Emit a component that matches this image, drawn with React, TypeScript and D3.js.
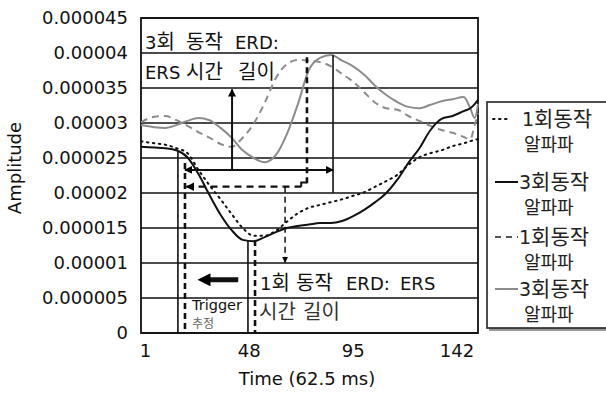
import * as d3 from "d3";
import React from "react";

// sample positions (Time index, 62.5 ms)
const times = [-1, 5, 10, 15, 20, 25, 30, 35, 40, 45, 50, 55, 60, 65, 70, 75, 80, 85, 90, 95, 100, 105, 110, 115, 120, 125, 130, 135, 140, 145, 148, 150, 151.5];

// 1회동작 알파파 (dotted black)
const erd1 = [27.4e-6, 27.1e-6, 26.9e-6, 26.4e-6, 25.7e-6, 23.3e-6, 21.1e-6, 19.1e-6, 17.0e-6, 15.0e-6, 13.9e-6, 13.9e-6, 14.6e-6, 15.9e-6, 17.1e-6, 17.9e-6, 18.3e-6, 18.7e-6, 19.1e-6, 19.6e-6, 20.1e-6, 20.9e-6, 21.7e-6, 22.6e-6, 24.0e-6, 25.1e-6, 25.7e-6, 26.1e-6, 26.7e-6, 27.1e-6, 27.4e-6, 27.6e-6, 27.7e-6];
// 3회동작 알파파 (solid black)
const erd3 = [26.6e-6, 26.5e-6, 26.4e-6, 26.1e-6, 25.1e-6, 22.7e-6, 19.7e-6, 16.9e-6, 14.7e-6, 13.3e-6, 13.1e-6, 13.7e-6, 14.4e-6, 15.0e-6, 15.3e-6, 15.5e-6, 15.7e-6, 15.7e-6, 16.0e-6, 16.7e-6, 17.6e-6, 18.7e-6, 20.0e-6, 21.9e-6, 24.3e-6, 26.4e-6, 29.0e-6, 30.6e-6, 31.0e-6, 31.7e-6, 32.1e-6, 32.7e-6, 33.3e-6];
// 1회동작 알파파 (dashed gray)
const ers1 = [30.1e-6, 30.9e-6, 31.0e-6, 30.4e-6, 29.6e-6, 28.7e-6, 27.9e-6, 27.0e-6, 26.6e-6, 27.9e-6, 29.9e-6, 32.9e-6, 36.4e-6, 38.4e-6, 39.0e-6, 38.9e-6, 38.7e-6, 38.1e-6, 37.0e-6, 35.9e-6, 34.4e-6, 32.9e-6, 32.1e-6, 31.9e-6, 31.0e-6, 30.3e-6, 29.6e-6, 29.0e-6, 28.6e-6, 28.0e-6, 27.7e-6, 29.7e-6, 31.4e-6];
// 3회동작 알파파 (solid gray)
const ers3 = [29.7e-6, 29.4e-6, 29.3e-6, 29.7e-6, 30.3e-6, 30.7e-6, 30.4e-6, 29.3e-6, 27.9e-6, 26.1e-6, 25.0e-6, 24.4e-6, 25.4e-6, 28.4e-6, 32.7e-6, 37.6e-6, 39.3e-6, 39.7e-6, 38.9e-6, 38.1e-6, 36.9e-6, 35.3e-6, 34.0e-6, 33.0e-6, 32.3e-6, 32.1e-6, 32.6e-6, 33.1e-6, 33.4e-6, 33.7e-6, 32.1e-6, 30.7e-6, 32.7e-6];

const xTicks = [1, 48, 95, 142];
const yTicks = [0, 5e-6, 10e-6, 15e-6, 20e-6, 25e-6, 30e-6, 35e-6, 40e-6, 45e-6];
const yTickLabels = ["0", "0.000005", "0.00001", "0.000015", "0.00002", "0.000025", "0.00003", "0.000035", "0.00004", "0.000045"];

const legendNames = ["1회동작", "3회동작", "1회동작", "3회동작"];
const legendSub = "알파파";

const FONT = "'DejaVu Sans', 'Noto Sans CJK KR', sans-serif";
const KFONT = "'Noto Sans CJK KR', sans-serif";
const GRAY = "#8c8c8c";

// split into hangul / other runs so Korean can be set a bit larger
function Mixed({ text, size, ksize }: { text: string; size: number; ksize: number }) {
    const runs = text.match(/[\uac00-\ud7a3]+|[^\uac00-\ud7a3]+/g) || [];
    return (
        <>
            {runs.map((r, i) =>
                /[\uac00-\ud7a3]/.test(r) ? (
                    <tspan key={i} fontFamily={KFONT} fontSize={ksize}>{r}</tspan>
                ) : (
                    <tspan key={i} fontFamily={FONT} fontSize={size}>{r}</tspan>
                )
            )}
        </>
    );
}

// words placed one by one, like the spaced-out labels in the figure
function Words({ words, y, fill = "#111", size = 18, ksize = 21 }: { words: [string, number][]; y: number; fill?: string; size?: number; ksize?: number }) {
    return (
        <>
            {words.map(([w, wx], i) => (
                <text key={i} x={wx} y={y} fill={fill}>
                    <Mixed text={w} size={size} ksize={ksize} />
                </text>
            ))}
        </>
    );
}

export default function App() {
    const width = 606;
    const height = 394;
    const plot = { left: 141, right: 478, top: 18, bottom: 333 };

    const x = d3.scaleLinear().domain([-1, 151.5]).range([plot.left, plot.right]);
    const y = d3.scaleLinear().domain([0, 45e-6]).range([plot.bottom, plot.top]);

    const line = (vals: number[]) =>
        d3
            .line<number>()
            .x((d, i) => x(times[i]))
            .y((d) => y(d))
            .curve(d3.curveMonotoneX)(vals) as string;

    // annotation anchors in data units
    const trig = 15.7;
    const trigDash = 18.9;
    const minT = 47.4;
    const minDash = 50.6;

    const legendY = [119, 182, 237, 289];
    const legendStyle = [
        { stroke: "#111", dash: "1.5,4.5", cap: "round" },
        { stroke: "#111", dash: "", cap: "butt" },
        { stroke: "#555", dash: "6,5", cap: "butt" },
        { stroke: GRAY, dash: "", cap: "butt" },
    ];

    return (
        <svg width={width} height={height} style={{ position: "absolute", left: 0, top: 0, background: "#fff" }}>
            <defs>
                <marker id="ah" viewBox="0 0 10 10" refX="9" refY="5" markerWidth="4" markerHeight="4" orient="auto-start-reverse">
                    <path d="M0,0L10,5L0,10z" fill="#000" />
                </marker>
                <marker id="ahBig" viewBox="0 0 10 10" refX="5" refY="5" markerWidth="3" markerHeight="2.6" orient="auto-start-reverse">
                    <path d="M0,0L10,5L0,10z" fill="#000" />
                </marker>
            </defs>

            {/* grid */}
            {yTicks.map((t) => (
                <line key={t} x1={plot.left} x2={plot.right} y1={y(t)} y2={y(t)} stroke="#111" strokeWidth={1.5} />
            ))}
            <rect x={plot.left} y={plot.top} width={plot.right - plot.left} height={plot.bottom - plot.top} fill="none" stroke="#111" strokeWidth={1.8} />

            {/* axis labels */}
            {yTicks.map((t, i) => (
                <text key={t} x={128} y={y(t)} dy="0.36em" textAnchor="end" fontFamily={FONT} fontSize={18} fill="#111">
                    {yTickLabels[i]}
                </text>
            ))}
            {xTicks.map((t) => (
                <text key={t} x={x(t)} y={357} textAnchor="middle" fontFamily={FONT} fontSize={18} fill="#111">
                    {t}
                </text>
            ))}
            <text x={307} y={385} textAnchor="middle" fontFamily={FONT} fontSize={18} fill="#111">
                Time (62.5 ms)
            </text>
            <text transform="translate(21,168) rotate(-90)" textAnchor="middle" fontFamily={FONT} fontSize={18} fill="#111">
                Amplitude
            </text>

            {/* series */}
            <path d={line(ers3)} fill="none" stroke={GRAY} strokeWidth={2} />
            <path d={line(ers1)} fill="none" stroke={GRAY} strokeWidth={2} strokeDasharray="7,5" />
            <path d={line(erd1)} fill="none" stroke="#111" strokeWidth={2} strokeDasharray="1.5,4.5" strokeLinecap="round" />
            <path d={line(erd3)} fill="none" stroke="#111" strokeWidth={2} />

            {/* annotations */}
            <line x1={x(trig)} x2={x(trig)} y1={y(25.9e-6)} y2={plot.bottom} stroke="#111" strokeWidth={1.6} />
            <line x1={x(trigDash)} x2={x(trigDash)} y1={y(24.3e-6)} y2={plot.bottom} stroke="#111" strokeWidth={2.6} strokeDasharray="6,4" />
            <line x1={x(minT)} x2={x(minT)} y1={y(13.1e-6)} y2={plot.bottom} stroke="#111" strokeWidth={1.6} />
            <line x1={x(minDash)} x2={x(minDash)} y1={y(13.3e-6)} y2={plot.bottom} stroke="#111" strokeWidth={2.6} strokeDasharray="6,4" />

            <line x1={x(85.9)} x2={x(85.9)} y1={y(39.7e-6)} y2={y(20e-6)} stroke="#111" strokeWidth={1.6} />
            <line x1={x(74.1)} x2={x(74.1)} y1={y(39.4e-6)} y2={y(20.9e-6)} stroke="#111" strokeWidth={2.6} strokeDasharray="6,4" />

            <line x1={x(18.9)} x2={x(85.9)} y1={y(23.3e-6)} y2={y(23.3e-6)} stroke="#111" strokeWidth={2} markerStart="url(#ah)" markerEnd="url(#ah)" />
            <line x1={x(40.2)} x2={x(40.2)} y1={y(23.3e-6)} y2={y(34.8e-6)} stroke="#111" strokeWidth={2} markerEnd="url(#ah)" />

            <line x1={x(19.6)} x2={x(71.5)} y1={y(20.9e-6)} y2={y(20.9e-6)} stroke="#111" strokeWidth={2.2} strokeDasharray="7,5" markerStart="url(#ah)" />
            <path d={`M${x(71.5)},${y(20.9e-6)}V${y(21.5e-6)}H${x(74.1)}`} fill="none" stroke="#111" strokeWidth={2} />
            <line x1={x(64.2)} x2={x(64.2)} y1={y(20.9e-6)} y2={y(10.1e-6)} stroke="#111" strokeWidth={1.5} strokeDasharray="6,4" markerEnd="url(#ah)" />

            <line x1={x(43)} x2={x(27.5)} y1={y(7.6e-6)} y2={y(7.6e-6)} stroke="#111" strokeWidth={5} markerEnd="url(#ahBig)" />

            {/* annotation text */}
            <Words words={[["3회", 145], ["동작", 186], ["ERD:", 235]]} y={49} ksize={20} />
            <Words words={[["ERS", 145], ["시간", 186], ["길이", 238]]} y={79} ksize={20} />
            <Words words={[["1회", 260], ["동작", 296], ["ERD:", 346], ["ERS", 400]]} y={290} ksize={20} />
            <Words words={[["시간", 259], ["길이", 303]]} y={319} fill="#333" ksize={20} />
            <text x={192} y={310} fontFamily={FONT} fontSize={14.5} fill="#111" textLength={50} lengthAdjust="spacingAndGlyphs">
                Trigger
            </text>
            <text x={192} y={328} fontFamily={KFONT} fontSize={12} fill="#666">
                추정
            </text>

            {/* legend */}
            <rect x={489} y={104} width={130} height={227} fill="#999" />
            <rect x={487} y={102} width={130} height={226} fill="#fff" stroke="#222" strokeWidth={1.6} />
            {legendNames.map((name, i) => (
                <g key={i}>
                    <line
                        x1={i === 0 ? 493 : 495}
                        x2={i === 0 ? 511 : 518}
                        y1={legendY[i]}
                        y2={legendY[i]}
                        stroke={legendStyle[i].stroke}
                        strokeWidth={2}
                        strokeDasharray={legendStyle[i].dash || undefined}
                        strokeLinecap={legendStyle[i].cap as any}
                    />
                    <text x={i === 0 ? 522 : 519} y={legendY[i] + 7} fill="#222">
                        <Mixed text={name} size={19} ksize={21} />
                    </text>
                    <text x={524} y={legendY[i] + 32} fontFamily={KFONT} fontSize={18} fill="#222">
                        {legendSub}
                    </text>
                </g>
            ))}
        </svg>
    );
}
